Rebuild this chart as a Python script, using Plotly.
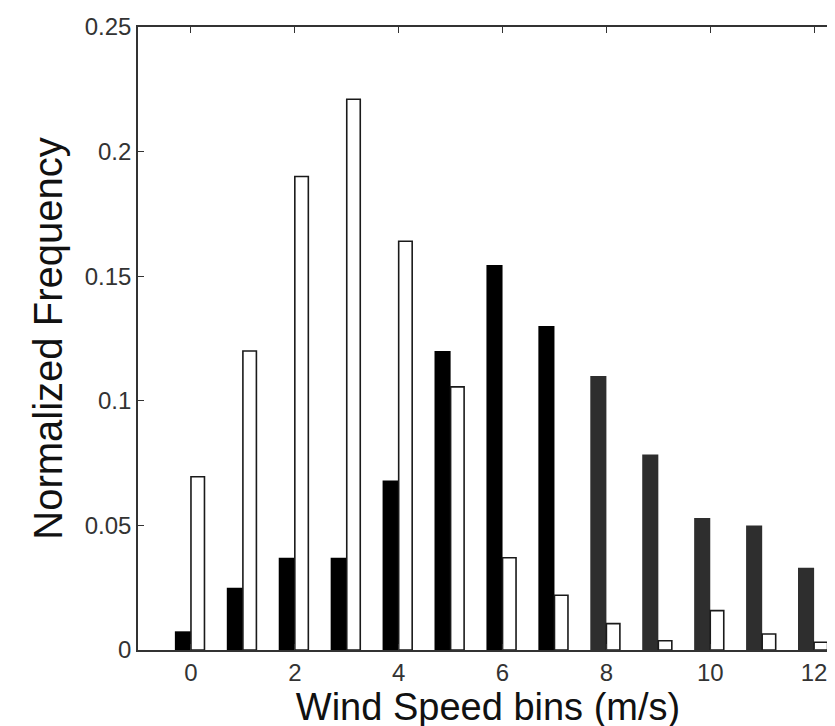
import plotly.graph_objects as go

bins = [0, 1, 2, 3, 4, 5, 6, 7, 8, 9, 10, 11, 12]
black_series = [0.0075, 0.025, 0.037, 0.037, 0.068, 0.120, 0.1545, 0.130, 0.110, 0.0785, 0.053, 0.050, 0.033]
white_series = [0.0695, 0.120, 0.190, 0.221, 0.164, 0.1056, 0.037, 0.022, 0.0106, 0.0037, 0.0158, 0.0064, 0.0031]
black_colors = ["#000000"] * 8 + ["#2e2e2e"] * 5
x_ticks = [0, 2, 4, 6, 8, 10, 12]
y_ticks = [0, 0.05, 0.1, 0.15, 0.2, 0.25]
y_tick_text = ["0", "0.05", "0.1", "0.15", "0.2", "0.25"]

fig = go.Figure()
fig.add_trace(go.Bar(
    x=bins, y=black_series, width=0.31, offset=-0.31,
    marker=dict(color=black_colors, line=dict(width=0)),
    showlegend=False, hoverinfo="x+y",
))
fig.add_trace(go.Bar(
    x=bins, y=white_series, width=0.26, offset=0.0,
    marker=dict(color="white", line=dict(color="#1a1a1a", width=1.6)),
    showlegend=False, hoverinfo="x+y",
))

axis_common = dict(
    showline=True, linecolor="#333333", linewidth=1.6, mirror="ticks",
    ticks="inside", ticklen=6, tickwidth=1.4, tickcolor="#333333",
    showgrid=False, zeroline=False,
    tickfont=dict(family="Liberation Sans, Arial, sans-serif", size=24, color="#333333"),
)

fig.update_layout(
    width=835, height=726,
    margin=dict(l=130, r=3, t=19, b=84),
    paper_bgcolor="white", plot_bgcolor="white",
    barmode="overlay",
    font=dict(family="Liberation Sans, Arial, sans-serif", color="#111111"),
    xaxis=dict(
        range=[-1.02, 12.46], tickmode="array", tickvals=x_ticks,
        ticktext=[str(v) for v in x_ticks],
        title=dict(text="Wind Speed bins (m/s)", font=dict(size=38, color="#111111"), standoff=0),
        **axis_common,
    ),
    yaxis=dict(
        range=[0, 0.25], tickmode="array", tickvals=y_ticks, ticktext=y_tick_text,
        title=dict(text="Normalized Frequency", font=dict(size=40, color="#111111"), standoff=10),
        **axis_common,
    ),
)

fig.write_html("out.html")
